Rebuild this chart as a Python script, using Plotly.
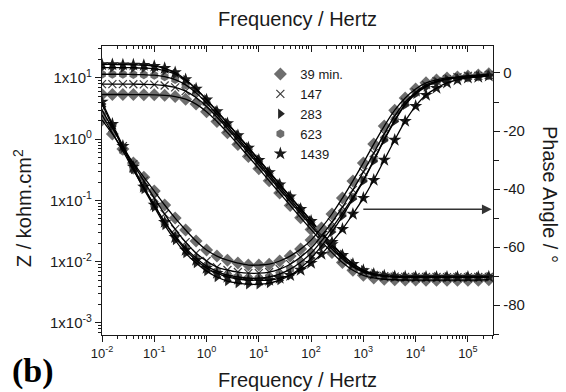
import plotly.graph_objects as go

# ---------------- data ----------------
freq_hz = [0.01, 0.0158, 0.0251, 0.0398, 0.0631, 0.1, 0.158, 0.251, 0.398, 0.631,
           1, 1.58, 2.51, 3.98, 6.31, 10, 15.8, 25.1, 39.8, 63.1,
           100, 158, 251, 398, 631, 1000, 1580, 2510, 3980, 6310,
           10000, 15800, 25100, 39800, 63100, 100000, 158000, 251000]

series_names = ["39 min.", "147", "283", "623", "1439"]

# impedance modulus, kohm.cm2
z_39 = [5.37, 5.37, 5.37, 5.36, 5.34, 5.30, 5.20, 4.97, 4.51, 3.75, 2.82, 1.95, 1.28, 0.822, 0.522,
        0.331, 0.209, 0.132, 0.0832, 0.0525, 0.0335, 0.0215, 0.0141, 0.00971, 0.00726, 0.00601,
        0.00543, 0.00518, 0.00508, 0.00503, 0.00502, 0.00501, 0.0050, 0.0050, 0.0050, 0.0050, 0.0050, 0.0051]
z_147 = [7.94, 7.94, 7.93, 7.91, 7.87, 7.78, 7.54, 7.02, 6.09, 4.79, 3.42, 2.30, 1.49, 0.948, 0.601,
         0.380, 0.240, 0.151, 0.0955, 0.0603, 0.0385, 0.0246, 0.0161, 0.0111, 0.00824, 0.00679,
         0.00611, 0.00582, 0.00571, 0.00566, 0.00564, 0.00563, 0.00563, 0.00562, 0.00562, 0.00562, 0.00563, 0.00566]
z_283 = [14.8, 14.8, 14.7, 14.7, 14.5, 14.1, 13.2, 11.6, 9.20, 6.63, 4.46, 2.89, 1.85, 1.17, 0.741,
         0.468, 0.295, 0.186, 0.117, 0.0741, 0.0471, 0.0301, 0.0195, 0.0130, 0.00931, 0.00731,
         0.00635, 0.00593, 0.00574, 0.00567, 0.00564, 0.00563, 0.00563, 0.00562, 0.00562, 0.00563, 0.00564, 0.00567]
z_623 = [11.5, 11.5, 11.5, 11.4, 11.3, 11.1, 10.5, 9.42, 7.71, 5.71, 3.91, 2.56, 1.64, 1.04, 0.660,
         0.417, 0.263, 0.166, 0.105, 0.0661, 0.0421, 0.0269, 0.0175, 0.0118, 0.00859, 0.00690,
         0.00609, 0.00574, 0.00560, 0.00553, 0.00551, 0.00550, 0.00550, 0.00550, 0.00549, 0.00550, 0.00552, 0.00556]
z_1439 = [16.6, 16.6, 16.5, 16.4, 16.2, 15.6, 14.4, 12.3, 9.44, 6.64, 4.41, 2.84, 1.81, 1.15, 0.724,
          0.457, 0.288, 0.182, 0.115, 0.0724, 0.0461, 0.0294, 0.0191, 0.0128, 0.00917, 0.00724,
          0.00632, 0.00591, 0.00574, 0.00567, 0.00564, 0.00563, 0.00563, 0.00563, 0.00563, 0.00564, 0.00566, 0.00570]

# phase angle, degrees
p_39 = [-16.2, -21.0, -26.2, -31.0, -35.9, -40.7, -45.5, -50.0, -54.1, -57.9, -61.0, -63.1, -64.5, -65.5,
        -66.2, -66.2, -65.9, -64.8, -63.1, -60.7, -57.6, -53.4, -48.6, -43.1, -37.2, -31.0, -24.5, -18.3,
        -12.8, -8.6, -5.5, -3.4, -2.4, -1.7, -1.4, -1.0, -0.7, -0.3]
p_147 = [-12.8, -19.0, -25.2, -31.4, -37.2, -43.1, -48.6, -53.8, -58.3, -62.1, -64.8, -66.9, -67.9, -68.6,
         -69.0, -69.0, -68.6, -67.6, -65.9, -63.4, -60.3, -56.2, -51.4, -46.2, -40.3, -34.1, -27.6, -21.0,
         -14.8, -10.0, -6.6, -4.1, -2.8, -2.1, -1.4, -1.0, -1.0, -0.7]
p_283 = [-10.7, -18.3, -25.9, -33.1, -40.0, -46.2, -52.4, -57.6, -62.1, -65.5, -68.3, -70.3, -71.7, -72.4,
         -72.8, -72.8, -72.4, -71.4, -69.7, -67.2, -63.8, -59.7, -54.8, -49.3, -43.4, -37.2, -30.3, -23.1,
         -16.6, -11.0, -7.2, -4.8, -3.1, -2.1, -1.7, -1.4, -1.0, -0.7]
p_623 = [-14.5, -20.7, -26.9, -33.4, -39.7, -45.5, -51.4, -56.2, -60.3, -63.8, -66.6, -68.3, -69.7, -70.3,
         -70.7, -70.7, -70.3, -69.3, -67.6, -65.2, -62.1, -57.9, -53.4, -48.3, -42.8, -36.9, -30.0, -22.8,
         -16.2, -10.7, -6.9, -4.5, -3.1, -2.1, -1.7, -1.4, -1.0, -0.7]
p_1439 = [-10.0, -17.6, -25.2, -32.4, -39.3, -45.5, -51.4, -56.6, -61.0, -64.5, -67.2, -69.0, -70.3, -71.0,
          -71.4, -71.4, -71.4, -70.7, -69.7, -67.9, -65.5, -62.4, -58.3, -53.8, -48.6, -43.1, -36.9, -30.0,
          -23.1, -16.6, -11.4, -7.6, -5.2, -3.4, -2.4, -1.7, -1.4, -1.0]

x_tick_vals = [0.01, 0.1, 1, 10, 100, 1000, 10000, 100000]
x_tick_text = ["10<sup>-2</sup>", "10<sup>-1</sup>", "10<sup>0</sup>", "10<sup>1</sup>",
               "10<sup>2</sup>", "10<sup>3</sup>", "10<sup>4</sup>", "10<sup>5</sup>"]
y_tick_vals = [0.001, 0.01, 0.1, 1, 10]
y_tick_text = ["1x10<sup>-3</sup>", "1x10<sup>-2</sup>", "1x10<sup>-1</sup>", "1x10<sup>0</sup>", "1x10<sup>1</sup>"]
y2_tick_vals = [-80, -60, -40, -20, 0]
y2_tick_text = ["-80", "-60", "-40", "-20", "0"]

# ---------------- styling ----------------
GREY = "#6e6e6e"
DARK = "#252525"
styles = {
    "39 min.": dict(symbol="diamond", size=10, color=GREY),
    "147": dict(symbol="x-thin", size=8, color="#3c3c3c", line=dict(width=1.2, color="#3c3c3c")),
    "283": dict(symbol="triangle-right", size=9, color=DARK),
    "623": dict(symbol="hexagon", size=9, color=GREY),
    "1439": dict(symbol="star", size=10, color="#1a1a1a"),
}
zdata = {"39 min.": z_39, "147": z_147, "283": z_283, "623": z_623, "1439": z_1439}
pdata = {"39 min.": p_39, "147": p_147, "283": p_283, "623": p_623, "1439": p_1439}
draw_order = ["39 min.", "147", "623", "283", "1439"]

fig = go.Figure()
for name in draw_order:
    rank = series_names.index(name) + 1
    fig.add_trace(go.Scatter(x=freq_hz, y=zdata[name], mode="markers", name=name,
                             marker=styles[name], legendrank=rank,
                             xaxis="x", yaxis="y"))
    fig.add_trace(go.Scatter(x=freq_hz, y=pdata[name], mode="markers", name=name,
                             marker=styles[name], showlegend=False,
                             xaxis="x", yaxis="y2"))
for name in draw_order:
    fig.add_trace(go.Scatter(x=freq_hz, y=zdata[name], mode="lines", showlegend=False,
                             line=dict(color="#000000", width=1.3, shape="spline"),
                             hoverinfo="skip", xaxis="x", yaxis="y"))
    fig.add_trace(go.Scatter(x=freq_hz, y=pdata[name], mode="lines", showlegend=False,
                             line=dict(color="#000000", width=1.3, shape="spline"),
                             hoverinfo="skip", xaxis="x", yaxis="y2"))
# carrier for the top (mirrored) frequency axis
fig.add_trace(go.Scatter(x=freq_hz, y=z_39, mode="markers", showlegend=False,
                         marker=dict(opacity=0), hoverinfo="skip", xaxis="x2", yaxis="y"))

AXC = "#1a1a1a"
FONT = "Liberation Sans, Arial, sans-serif"
x_range = [-2, 5.48]

fig.update_layout(
    width=566, height=392,
    margin=dict(l=102, r=73, t=46, b=57, autoexpand=False),
    paper_bgcolor="white", plot_bgcolor="white",
    font=dict(family=FONT, color=AXC),
    xaxis=dict(type="log", range=x_range, autorange=False, automargin=False,
               tickmode="array", tickvals=x_tick_vals, ticktext=x_tick_text,
               ticks="outside", ticklen=6, tickwidth=1.2, tickcolor=AXC,
               minor=dict(ticks="outside", ticklen=3, tickwidth=1, tickcolor=AXC, dtick="D1", showgrid=False),
               showline=True, linecolor=AXC, linewidth=1.3, showgrid=False, zeroline=False,
               tickfont=dict(size=13, color=AXC),
               title=dict(text="Frequency / Hertz", font=dict(size=20), standoff=13)),
    xaxis2=dict(type="log", range=x_range, autorange=False, automargin=False,
                overlaying="x", side="top", anchor="y",
                tickmode="array", tickvals=x_tick_vals, showticklabels=False,
                ticks="inside", ticklen=6, tickwidth=1.2, tickcolor=AXC,
                minor=dict(ticks="inside", ticklen=3, tickwidth=1, tickcolor=AXC, dtick="D1", showgrid=False),
                showline=True, linecolor=AXC, linewidth=1.3, showgrid=False, zeroline=False,
                title=dict(text="Frequency / Hertz", font=dict(size=20), standoff=12)),
    yaxis=dict(type="log", range=[-3.196, 1.522], autorange=False, automargin=False,
               tickmode="array", tickvals=y_tick_vals, ticktext=y_tick_text,
               ticks="outside", ticklen=6, tickwidth=1.2, tickcolor=AXC,
               minor=dict(ticks="outside", ticklen=3, tickwidth=1, tickcolor=AXC, dtick="D1", showgrid=False),
               showline=True, linecolor=AXC, linewidth=1.3, showgrid=False, zeroline=False,
               tickfont=dict(size=15, color=AXC)),
    yaxis2=dict(range=[-90.3, 9.3], autorange=False, automargin=False,
                overlaying="y", side="right", anchor="x",
                tickmode="array", tickvals=y2_tick_vals, ticktext=y2_tick_text,
                ticks="outside", ticklen=6, tickwidth=1.2, tickcolor=AXC,
                minor=dict(ticks="outside", ticklen=5, tickwidth=1, tickcolor=AXC, dtick=10, tick0=0, showgrid=False),
                showline=True, linecolor=AXC, linewidth=1.3, showgrid=False, zeroline=False,
                tickfont=dict(size=15, color=AXC)),
    legend=dict(x=0.405, y=0.955, xanchor="left", yanchor="top", tracegroupgap=0,
                bgcolor="rgba(0,0,0,0)", borderwidth=0,
                font=dict(size=13, color=AXC), itemsizing="trace"),
    annotations=[
        dict(text="Z / kohm.cm<sup>2</sup>", textangle=-90, xref="paper", yref="paper",
             x=-0.2046, y=0.439, xanchor="center", yanchor="middle",
             showarrow=False, font=dict(size=20, color=AXC)),
        dict(text="Phase Angle / °", textangle=90, xref="paper", yref="paper",
             x=1.1458, y=0.488, xanchor="center", yanchor="middle",
             showarrow=False, font=dict(size=20, color=AXC)),
        dict(text="<b>(b)</b>", xref="paper", yref="paper", x=-0.176, y=-0.124,
             xanchor="center", yanchor="middle",
             showarrow=False, font=dict(size=34, family="Liberation Serif, Times New Roman, serif", color="#000")),
        dict(text="", xref="x", yref="y2", x=5.455, y=-47.0, axref="x", ayref="y2", ax=2.97, ay=-47.0,
             showarrow=True, arrowhead=2, arrowsize=1.3, arrowwidth=1.5, arrowcolor="#333333"),
    ],
)

fig.write_html("out.html")
